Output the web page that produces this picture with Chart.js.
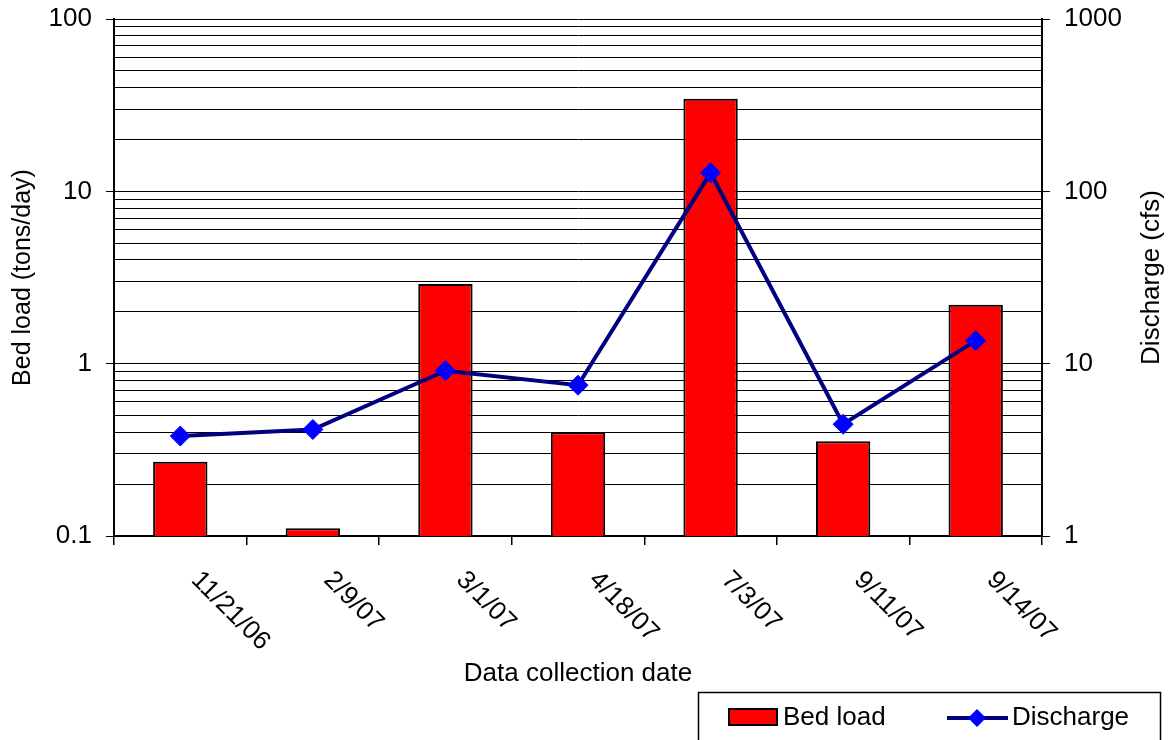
<!DOCTYPE html>
<html>
<head>
<meta charset="utf-8">
<script src="https://cdn.jsdelivr.net/npm/chart.js@4/dist/chart.umd.min.js"></script>
<style>
  html, body { margin: 0; padding: 0; background: #fff; }
  #wrap { width: 1168px; height: 740px; }
</style>
</head>
<body>
<div id="wrap"><canvas id="chart" width="1168" height="740"></canvas></div>
<script>
// values
const dates = ["11/21/06", "2/9/07", "3/1/07", "4/18/07", "7/3/07", "9/11/07", "9/14/07"];
const bedLoad = [0.27, 0.111, 2.9, 0.40, 34.5, 0.355, 2.2];      // tons/day
const discharge = [3.8, 4.15, 9.1, 7.5, 128, 4.45, 13.6];        // cfs

const leftTicks = [0.1,0.2,0.3,0.4,0.5,0.6,0.7,0.8,0.9,
                   1,2,3,4,5,6,7,8,9,
                   10,20,30,40,50,60,70,80,90,100];
const leftLabels = ["0.1", "1", "10", "100"];
const rightTicks = [1, 10, 100, 1000];
const rightLabels = ["1", "10", "100", "1000"];

const font = "'Liberation Sans', Arial, sans-serif";

const isMajor = v => leftLabels.includes(String(v)) || rightLabels.includes(String(v));

const extras = {
  id: "extras",
  afterDraw(chart) {
    const ctx = chart.ctx;
    const xs = chart.scales.x;
    const area = chart.chartArea;
    ctx.save();
    ctx.fillStyle = "#000";

    // rotated date labels
    ctx.font = "26px " + font;
    ctx.textAlign = "left";
    ctx.textBaseline = "middle";
    dates.forEach((d, i) => {
      const x = xs.getPixelForValue(i);
      ctx.save();
      ctx.translate(x + 15, area.bottom + 40);
      ctx.rotate(Math.PI / 4);
      ctx.fillText(d, 0, 0);
      ctx.restore();
    });

    // right axis title, reading upward
    ctx.font = "26px " + font;
    ctx.textAlign = "center";
    ctx.save();
    ctx.translate(1152, (area.top + area.bottom) / 2);
    ctx.rotate(-Math.PI / 2);
    ctx.fillText("Discharge (cfs)", 0, 0);
    ctx.restore();

    // legend box
    const bars = chart.data.datasets.find(d => d.type === "bar");
    const line = chart.data.datasets.find(d => d.type === "line");
    ctx.strokeStyle = "#000";
    ctx.lineWidth = 1.5;
    ctx.strokeRect(698.5, 692.5, 462, 60);
    ctx.fillStyle = bars.backgroundColor;
    ctx.fillRect(729, 709, 48, 16);
    ctx.lineWidth = 2;
    ctx.strokeRect(729, 709, 48, 16);
    ctx.fillStyle = "#000";
    ctx.font = "26px " + font;
    ctx.textAlign = "left";
    ctx.fillText(bars.label, 783, 718);

    ctx.strokeStyle = line.borderColor;
    ctx.lineWidth = 4;
    ctx.beginPath();
    ctx.moveTo(947, 718);
    ctx.lineTo(1008, 718);
    ctx.stroke();
    ctx.fillStyle = line.pointBackgroundColor;
    ctx.beginPath();
    ctx.moveTo(977, 709); ctx.lineTo(986, 718); ctx.lineTo(977, 727); ctx.lineTo(968, 718);
    ctx.closePath();
    ctx.fill();
    ctx.fillStyle = "#000";
    ctx.fillText(line.label, 1012, 718);
    ctx.restore();
  }
};

new Chart(document.getElementById("chart"), {
  data: {
    labels: dates,
    datasets: [
      {
        type: "line",
        label: "Discharge",
        data: discharge,
        yAxisID: "y2",
        order: 0,
        borderColor: "#000080",
        borderWidth: 4,
        pointStyle: "rectRot",
        pointRadius: 10,
        pointBackgroundColor: "#0000FF",
        pointBorderColor: "#0000FF",
        pointBorderWidth: 1,
        tension: 0
      },
      {
        type: "bar",
        label: "Bed load",
        data: bedLoad,
        yAxisID: "y",
        order: 1,
        backgroundColor: "#FF0000",
        borderColor: "#000",
        borderWidth: 2,
        categoryPercentage: 1,
        barPercentage: 0.41
      }
    ]
  },
  options: {
    responsive: false,
    animation: false,
    layout: { padding: { top: 19, left: 0, right: 0, bottom: 0 } },
    plugins: { legend: { display: false }, tooltip: { enabled: false } },
    scales: {
      x: {
        type: "category",
        offset: true,
        afterFit(s) { s.height = 204; s.paddingLeft = 0; s.paddingRight = 0; },
        grid: { offset: true, drawOnChartArea: false, tickLength: 9, color: "#000", lineWidth: 1.5 },
        border: { color: "#000", width: 1.5 },
        ticks: { display: false },
        title: { display: true, text: "Data collection date", color: "#000",
                 font: { family: font, size: 26 }, padding: { top: 0, bottom: 51 } }
      },
      y: {
        type: "logarithmic",
        position: "left",
        min: 0.1,
        max: 100,
        afterFit(s) { s.width = 114; s.paddingTop = 0; s.paddingBottom = 0; },
        afterBuildTicks(s) { s.ticks = leftTicks.map(v => ({ value: v })); },
        grid: {
          color: "#000",
          lineWidth: 1,
          tickLength: 8,
          tickColor: c => isMajor(c.tick.value) ? "#000" : "rgba(0,0,0,0)"
        },
        border: { color: "#000", width: 2 },
        ticks: {
          autoSkip: false,
          color: "#000",
          font: { family: font, size: 26 },
          padding: 14,
          callback: v => leftLabels.includes(String(v)) ? String(v) : ""
        },
        title: { display: true, text: "Bed load (tons/day)", color: "#000",
                 font: { family: font, size: 25 }, padding: { top: 8, bottom: 0 } }
      },
      y2: {
        type: "logarithmic",
        position: "right",
        min: 1,
        max: 1000,
        afterFit(s) { s.width = 126; s.paddingTop = 0; s.paddingBottom = 0; },
        afterBuildTicks(s) { s.ticks = rightTicks.map(v => ({ value: v })); },
        grid: { drawOnChartArea: false, tickLength: 8, tickColor: "#000", lineWidth: 1 },
        border: { color: "#000", width: 2 },
        ticks: {
          autoSkip: false,
          color: "#000",
          font: { family: font, size: 26 },
          padding: 14,
          callback: v => String(v)
        }
      }
    }
  },
  plugins: [extras]
});
</script>
</body>
</html>
